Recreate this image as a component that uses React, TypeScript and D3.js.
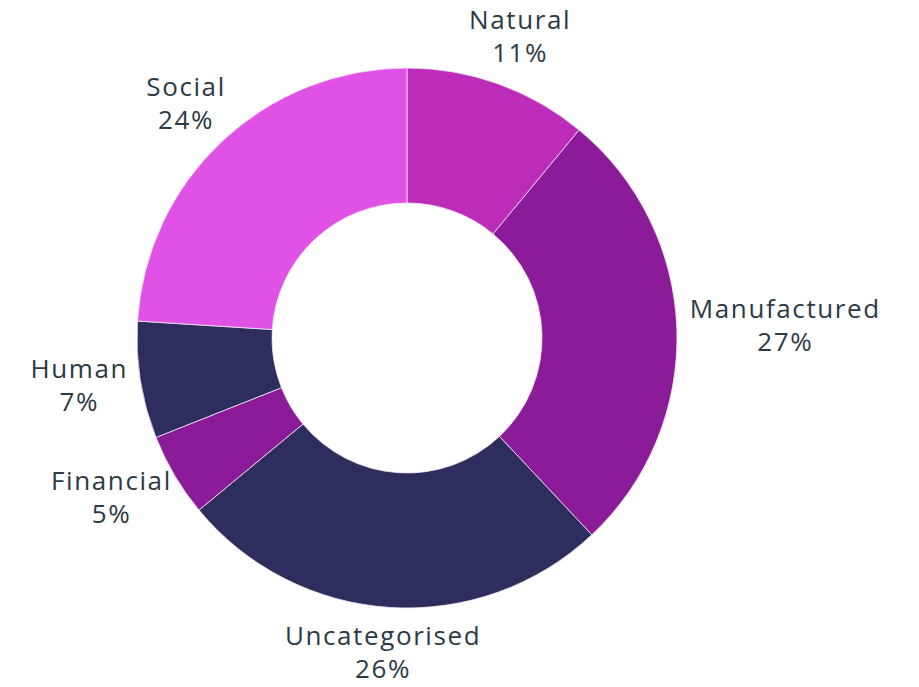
import React, { useEffect, useRef } from "react";
import * as d3 from "d3";

const categories = ["Natural", "Manufactured", "Uncategorised", "Financial", "Human", "Social"];
const shares = [11, 27, 26, 5, 7, 24];
const colors = ["#BD2CB9", "#8C1B99", "#2E2E5E", "#8C1B99", "#2E2E5E", "#E052E6"];

const W = 919;
const H = 687;

export default function App() {
  const ref = useRef<SVGSVGElement | null>(null);

  useEffect(() => {
    const svg = d3.select(ref.current);
    svg.selectAll("*").remove();
    const cx = 407;
    const cy = 338;
    const outerR = 270;
    const innerR = 135;
    const g = svg.append("g").attr("transform", `translate(${cx},${cy})`);

    const data = categories.map((c, i) => ({ name: c, value: shares[i], color: colors[i] }));
    const pie = d3.pie<any>().value((d) => d.value).sort(null);
    const arcs = pie(data);
    const arc = d3.arc<any>().innerRadius(innerR).outerRadius(outerR);

    g.selectAll("path")
      .data(arcs)
      .join("path")
      .attr("d", arc as any)
      .attr("fill", (d: any) => d.data.color)
      .attr("stroke", "#f6e6f6")
      .attr("stroke-width", 0.8);

    const R = 283;
    const lineGap = 33;
    arcs.forEach((a: any) => {
      const th = (a.startAngle + a.endAngle) / 2;
      const s = Math.sin(th);
      const c = Math.cos(th);
      const ax = R * s;
      const ay = -R * c;
      const t = g
        .append("text")
        .attr("text-anchor", "middle")
        .attr("font-family", "'Open Sans', sans-serif")
        .attr("font-size", 26)
        .attr("letter-spacing", "1.6px")
        .attr("fill", "#2C3A44");
      t.append("tspan").attr("x", 0).attr("dy", 0).text(a.data.name);
      t.append("tspan").attr("x", 0).attr("dy", lineGap).text(`${a.data.value}%`);
      const bb = (t.node() as SVGTextElement).getBBox();
      const w = bb.width;
      const h = 70;
      const px = ax + (s * w) / 2;
      const py = ay - (c * h) / 2;
      t.attr("transform", `translate(${px},${py - 10})`);
    });
  }, []);

  return (
    <svg
      ref={ref}
      width={W}
      height={H}
      style={{ position: "absolute", left: 0, top: 0, background: "#ffffff" }}
    />
  );
}
